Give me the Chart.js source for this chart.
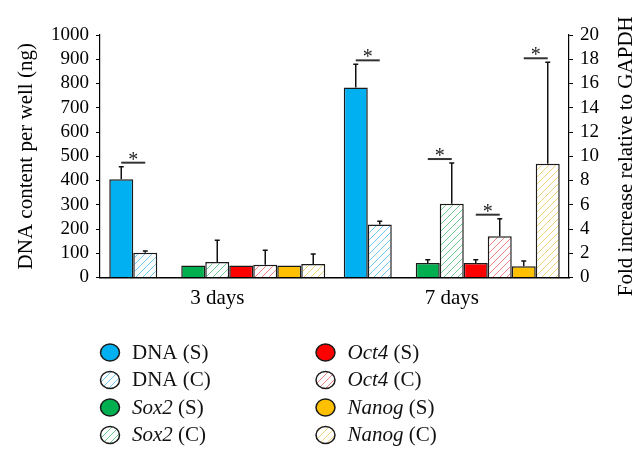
<!DOCTYPE html>
<html>
<head>
<meta charset="utf-8">
<script src="https://cdn.jsdelivr.net/npm/chart.js@4.4.0/dist/chart.umd.min.js"></script>
<style>
  html, body { margin: 0; padding: 0; background: #fff; }
  #wrap { width: 643px; height: 462px; position: relative; }
</style>
</head>
<body>
<div id="wrap"><canvas id="chart"></canvas></div>
<script>
const categories = ['3 days', '7 days'];

// DNA content, left axis (ng)
const dnaS = [405, 784];
const dnaSErr = [457, 879];
const dnaC = [102, 219];
const dnaCErr = [109, 232];

// gene expression, right axis (fold vs GAPDH)
const sox2S = [1.0, 1.2];
const sox2SErr = [null, 1.47];
const sox2C = [1.28, 6.09];
const sox2CErr = [3.07, 9.44];
const oct4S = [1.0, 1.2];
const oct4SErr = [null, 1.47];
const oct4C = [1.06, 3.4];
const oct4CErr = [2.24, 4.85];
const nanogS = [1.0, 0.92];
const nanogSErr = [null, 1.36];
const nanogC = [1.11, 9.39];
const nanogCErr = [1.94, 17.75];

// axis ranges / tick steps
const leftMax = 1000, leftStep = 100;
const rightMax = 20, rightStep = 2;

// significance marks: [category index, dataset a, dataset b]
const sigPairs = [[0, 0, 1], [1, 0, 1], [1, 3, 4], [1, 5, 6], [1, 7, 8]];

const serif = "'Liberation Serif', 'Times New Roman', serif";
const colors = {
    dna: '#00b0f0', sox2: '#00b050', oct4: '#ff0000', nanog: '#ffc000'
};
const hatchColors = {
    dna: 'rgb(110,200,240)', sox2: 'rgb(110,200,145)', oct4: 'rgb(240,130,130)', nanog: 'rgb(240,210,120)'
};

const canvas = document.getElementById('chart');

// white tile with a thin "/" stripe, drawn pixel by pixel
function hatch(color) {
    const s = 7;
    const c = document.createElement('canvas');
    c.width = s; c.height = s;
    const g = c.getContext('2d');
    g.fillStyle = '#ffffff';
    g.fillRect(0, 0, s, s);
    g.fillStyle = color;
    for (let i = 0; i < s; i++) {
        g.fillRect(i, s - 1 - i, 1, 1);
    }
    return g.createPattern(c, 'repeat');
}

const hatches = {
    dna: hatch(hatchColors.dna), sox2: hatch(hatchColors.sox2),
    oct4: hatch(hatchColors.oct4), nanog: hatch(hatchColors.nanog)
};

function bar(name, italic, kind, key, data, err, axis) {
    return {
        label: name + ' (' + kind + ')',
        legendName: name, legendSuffix: ' (' + kind + ')', italic: italic,
        data: data, err: err, yAxisID: axis,
        backgroundColor: kind === 'S' ? colors[key] : hatches[key],
        borderColor: '#1a1a1a',
        borderWidth: 1.5
    };
}

const datasets = [
    bar('DNA', false, 'S', 'dna', dnaS, dnaSErr, 'y'),
    bar('DNA', false, 'C', 'dna', dnaC, dnaCErr, 'y'),
    { label: '', data: [null, null], yAxisID: 'y2', backgroundColor: 'transparent', borderWidth: 0 },
    bar('Sox2', true, 'S', 'sox2', sox2S, sox2SErr, 'y2'),
    bar('Sox2', true, 'C', 'sox2', sox2C, sox2CErr, 'y2'),
    bar('Oct4', true, 'S', 'oct4', oct4S, oct4SErr, 'y2'),
    bar('Oct4', true, 'C', 'oct4', oct4C, oct4CErr, 'y2'),
    bar('Nanog', true, 'S', 'nanog', nanogS, nanogSErr, 'y2'),
    bar('Nanog', true, 'C', 'nanog', nanogC, nanogCErr, 'y2')
];

// legend layout: two columns of dataset indices
const legendColumns = [[0, 1, 3, 4], [5, 6, 7, 8]];

const errorBars = {
    id: 'errorBars',
    afterDatasetsDraw(chart) {
        const ctx = chart.ctx;
        const tops = {};
        ctx.save();
        ctx.strokeStyle = '#111';
        ctx.lineWidth = 1.5;
        chart.data.datasets.forEach((ds, i) => {
            if (!ds.err) return;
            const meta = chart.getDatasetMeta(i);
            const scale = chart.scales[meta.yAxisID];
            meta.data.forEach((b, j) => {
                let top = b.y;
                const e = ds.err[j];
                if (e != null) {
                    const y = scale.getPixelForValue(e);
                    ctx.beginPath();
                    ctx.moveTo(b.x, b.y); ctx.lineTo(b.x, y);
                    ctx.moveTo(b.x - 2.5, y); ctx.lineTo(b.x + 2.5, y);
                    ctx.stroke();
                    top = Math.min(top, y);
                }
                tops[i + '_' + j] = { x: b.x, top: top };
            });
        });

        ctx.lineWidth = 2;
        ctx.fillStyle = '#222';
        ctx.font = '20px ' + serif;
        ctx.textAlign = 'center';
        ctx.textBaseline = 'alphabetic';
        sigPairs.forEach(([cat, a, b]) => {
            const pa = tops[a + '_' + cat], pb = tops[b + '_' + cat];
            const y = Math.min(pa.top, pb.top) - 4;
            ctx.strokeStyle = '#333';
            ctx.beginPath();
            ctx.moveTo(pa.x, y); ctx.lineTo(pb.x, y);
            ctx.stroke();
            ctx.fillText('*', (pa.x + pb.x) / 2, y + 3);
        });
        ctx.restore();
    }
};

const extras = {
    id: 'extras',
    afterDraw(chart) {
        const ctx = chart.ctx;
        const area = chart.chartArea;
        ctx.save();

        // right axis title, reading upward
        ctx.translate(626, (area.top + area.bottom) / 2);
        ctx.rotate(-Math.PI / 2);
        ctx.fillStyle = '#000';
        ctx.font = '21px ' + serif;
        ctx.textAlign = 'center';
        ctx.textBaseline = 'middle';
        ctx.fillText('Fold increase relative to GAPDH', 0, 0);
        ctx.setTransform(1, 0, 0, 1, 0, 0);

        // legend
        const colX = [110, 325.5];
        const rowY = [352.5, 380, 407.5, 435];
        ctx.textAlign = 'left';
        ctx.textBaseline = 'alphabetic';
        legendColumns.forEach((col, c) => {
            col.forEach((di, r) => {
                const ds = chart.data.datasets[di];
                const cx = colX[c], cy = rowY[r];
                ctx.beginPath();
                ctx.ellipse(cx, cy, 9.5, 8.5, 0, 0, Math.PI * 2);
                ctx.fillStyle = ds.backgroundColor;
                ctx.fill();
                ctx.lineWidth = 1.5;
                ctx.strokeStyle = '#1a1a1a';
                ctx.stroke();

                let tx = cx + 22;
                ctx.fillStyle = '#111';
                ctx.font = (ds.italic ? 'italic ' : '') + '21px ' + serif;
                ctx.fillText(ds.legendName, tx, cy + 6);
                tx += ctx.measureText(ds.legendName).width;
                ctx.font = '21px ' + serif;
                ctx.fillText(ds.legendSuffix, tx, cy + 6);
            });
        });
        ctx.restore();
    }
};

new Chart(canvas, {
    type: 'bar',
    data: { labels: categories, datasets: datasets },
    options: {
        responsive: true,
        maintainAspectRatio: false,
        animation: false,
        categoryPercentage: 0.921,
        barPercentage: 1.0,
        layout: { padding: { top: 35, left: 0, right: 0, bottom: 0 } },
        plugins: {
            legend: { display: false },
            tooltip: { enabled: false }
        },
        scales: {
            x: {
                grid: { display: false },
                border: { display: true, color: '#000', width: 1.5 },
                ticks: { color: '#000', font: { family: serif, size: 21 }, padding: 0 },
                afterFit: (s) => { s.height = 184.5; }
            },
            y: {
                position: 'left',
                min: 0, max: leftMax,
                grid: { drawOnChartArea: false, color: '#000', tickLength: 4 },
                border: { display: true, color: '#000', width: 1.2 },
                ticks: {
                    stepSize: leftStep, autoSkip: false, color: '#000',
                    font: { family: serif, size: 19 }, padding: 7,
                    callback: (v) => String(v)
                },
                title: {
                    display: true, text: 'DNA content per well (ng)', color: '#000',
                    font: { family: serif, size: 21 }, padding: { top: 14, bottom: 0 }
                },
                afterFit: (s) => { s.width = 100; }
            },
            y2: {
                position: 'right',
                min: 0, max: rightMax,
                grid: { drawOnChartArea: false, color: '#000', tickLength: 4 },
                border: { display: true, color: '#000', width: 1.2 },
                ticks: {
                    stepSize: rightStep, autoSkip: false, color: '#000',
                    font: { family: serif, size: 19 }, padding: 7,
                    callback: (v) => String(v)
                },
                afterFit: (s) => { s.width = 74; }
            }
        }
    },
    plugins: [errorBars, extras]
});
</script>
</body>
</html>
